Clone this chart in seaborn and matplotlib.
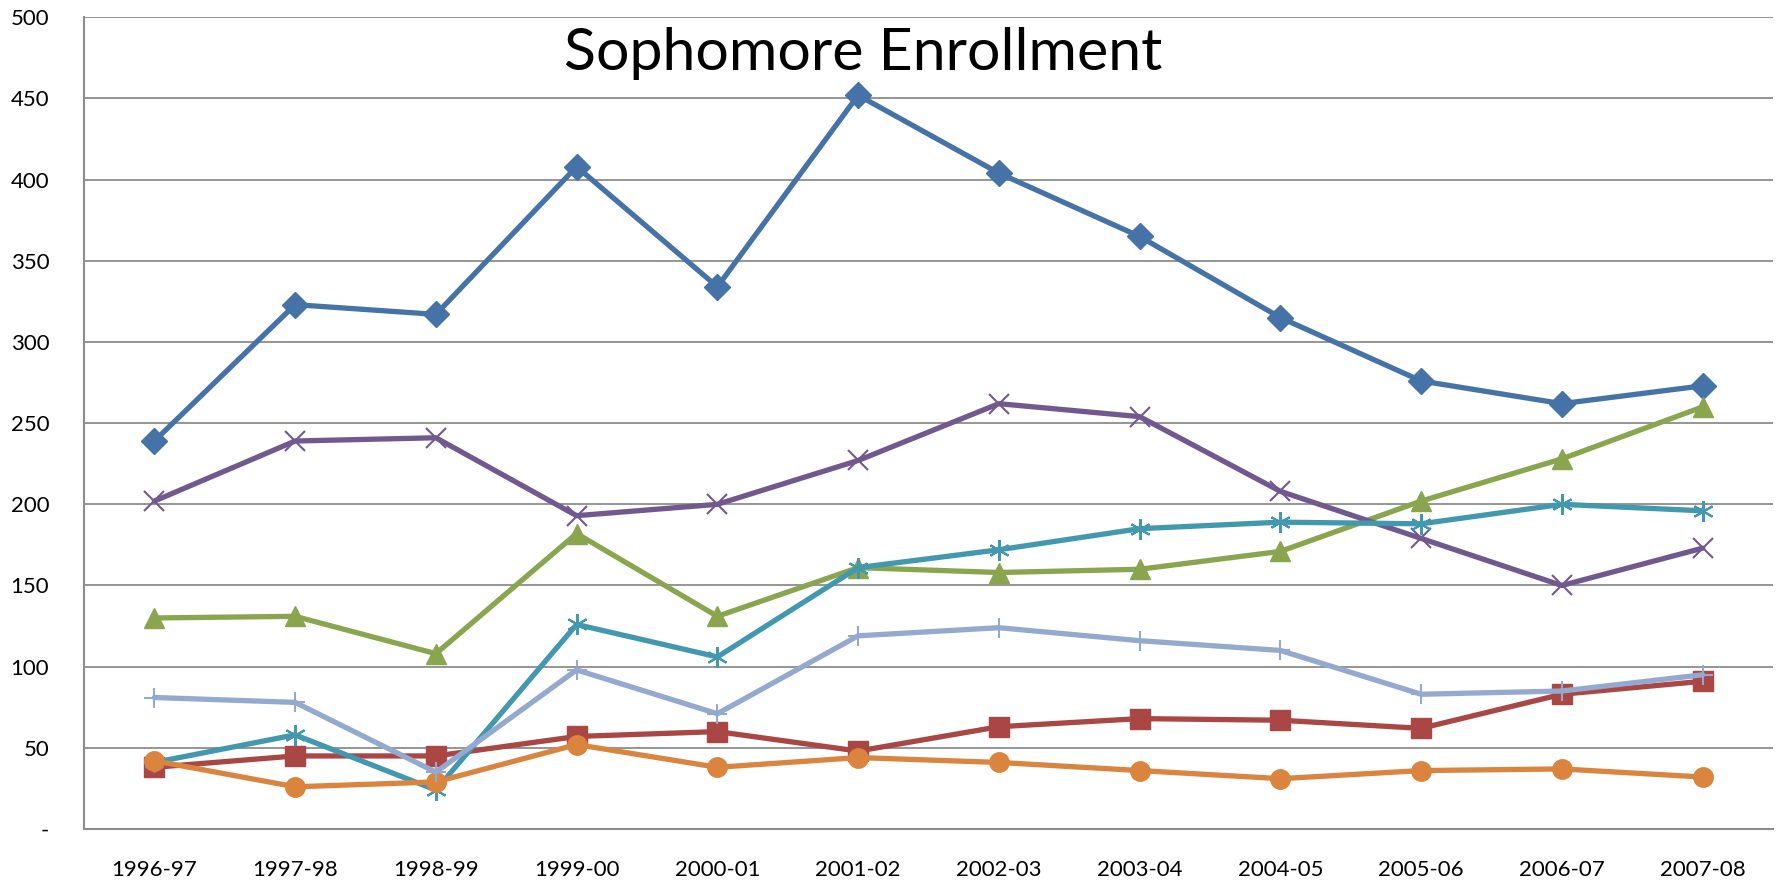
import numpy as np
import pandas as pd
import matplotlib
matplotlib.use("Agg")
import matplotlib.pyplot as plt
import seaborn as sns

years = ["1996-97", "1997-98", "1998-99", "1999-00", "2000-01", "2001-02",
         "2002-03", "2003-04", "2004-05", "2005-06", "2006-07", "2007-08"]

s1_blue = [239, 323, 317, 408, 334, 452, 404, 365, 315, 276, 262, 273]
s2_red = [38, 45, 45, 57, 60, 48, 63, 68, 67, 62, 83, 91]
s3_green = [130, 131, 108, 182, 131, 161, 158, 160, 171, 202, 228, 260]
s4_purple = [202, 239, 241, 193, 200, 227, 262, 254, 208, 179, 150, 173]
s5_teal = [41, 58, 24, 126, 106, 161, 172, 185, 189, 188, 200, 196]
s6_orange = [42, 26, 29, 52, 38, 44, 41, 36, 31, 36, 37, 32]
s7_lightblue = [81, 78, 35, 98, 71, 119, 124, 116, 110, 83, 85, 95]

y_ticks = [0, 50, 100, 150, 200, 250, 300, 350, 400, 450, 500]
title = "Sophomore Enrollment"

series = [
    (s1_blue, "#4572A7", "D", 13, 1.0),
    (s2_red, "#AA4643", "s", 14, 1.0),
    (s3_green, "#89A54E", "^", 15, 1.0),
    (s4_purple, "#71588F", "x", 14, 1.5),
    (s5_teal, "#4198AF", (6, 2, 0), 15, 1.5),
    (s6_orange, "#DB843D", "o", 14, 1.0),
    (s7_lightblue, "#93A9CF", "+", 15, 1.5),
]

sns.set_theme(style="white")
plt.rcParams["font.family"] = ["Lato", "DejaVu Sans"]

fig = plt.figure(figsize=(17.76, 8.88), dpi=100)
ax = fig.add_axes([84 / 1776, 1 - 829 / 888, (1773 - 84) / 1776, (829 - 17.3) / 888])

x = np.arange(len(years))
for vals, col, mk, ms, mew in series:
    sns.lineplot(x=x, y=vals, ax=ax, color=col, marker=mk, markersize=ms,
                 markeredgewidth=mew, markeredgecolor=col, markerfacecolor=col,
                 linewidth=3.8, legend=False, zorder=3)

ax.set_xlim(-0.5, len(years) - 0.5)
ax.set_ylim(0, 500)
ax.set_yticks(y_ticks)
ax.set_yticklabels(["-" if v == 0 else str(v) for v in y_ticks], fontsize=16)
ax.set_xticks(x)
ax.set_xticklabels(years, fontsize=16)
ax.set_xticks(np.arange(-0.5, len(years), 1), minor=True)

grid_col = "#8C8C8C"
ax.yaxis.grid(True, color=grid_col, linewidth=1.3, zorder=1)
ax.xaxis.grid(False)
ax.set_axisbelow(True)
for side in ["top", "right"]:
    ax.spines[side].set_visible(False)
for side in ["left", "bottom"]:
    ax.spines[side].set_color(grid_col)
    ax.spines[side].set_linewidth(1.5)

ax.tick_params(axis="x", which="major", length=0, pad=22, colors="black")
ax.tick_params(axis="x", which="minor", length=6, width=1.3, color=grid_col, direction="out")
ax.tick_params(axis="y", which="major", length=6, width=1.3, color=grid_col,
               direction="out", pad=19, labelcolor="black")
ax.set_xlabel("")
ax.set_ylabel("")

fig.text(863 / 1776, 1 - 54 / 888, title, fontsize=42.5, ha="center", va="center",
         color="black")

fig.savefig("out.png", dpi=100, facecolor="white")
